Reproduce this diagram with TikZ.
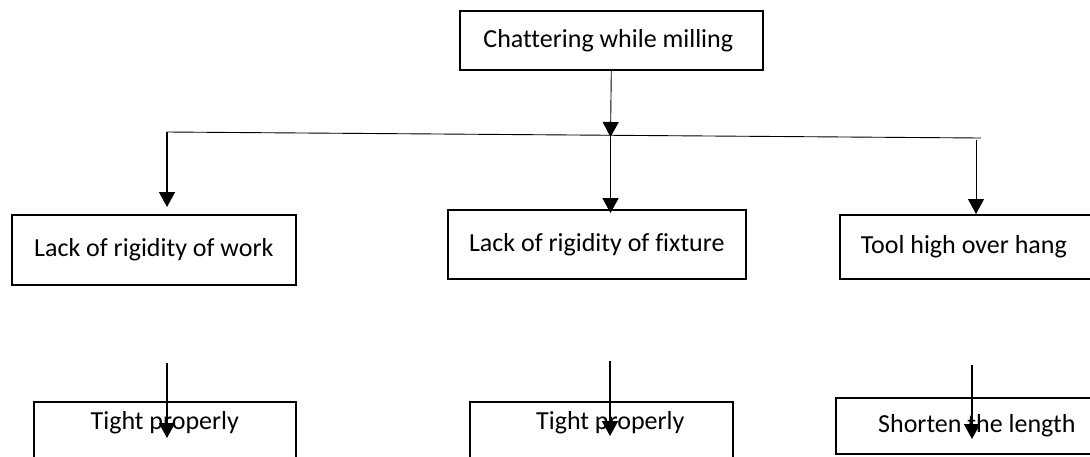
\documentclass[tikz,border=0pt]{standalone}
\usepackage{fontspec}
\setmainfont[Ligatures=NoCommon]{Carlito}
\usetikzlibrary{arrows.meta,calc}
\tikzset{
  box/.style={draw, line width=1.6pt, inner sep=0pt, anchor=north west,
    font=\fontsize{26}{31}\selectfont},
  lowbox/.style={box, text height=28pt, text depth=50pt},
  tip/.style={-{Triangle[width=16pt,length=15pt]}},
  thin/.style={tip, line width=0.9pt},
  medium/.style={tip, line width=1.4pt},
  heavy/.style={tip, line width=1.8pt},
  rail/.style={line width=0.9pt},
}
\begin{document}
\begin{tikzpicture}[x=1pt,y=-1pt]
\useasboundingbox (0,0) rectangle (1090,456);
\clip (0,0) rectangle (1090,456);

% problem
\node[box, minimum width=303pt, minimum height=59pt] (top) at (459,10) {Chattering while milling\hspace*{6pt}};

% causes
\node[box, minimum width=284pt, minimum height=70pt] (work) at (11,214) {Lack of rigidity of work};
\node[box, minimum width=298pt, minimum height=69pt] (fixture) at (447,209) {Lack of rigidity of fixture};
\node[box, minimum width=261pt, minimum height=64pt] (tool) at (839,214) {Tool high over hang\hspace*{13pt}};

% remedies
\node[lowbox, minimum width=262pt] (tight1) at (33,401) {Tight properly};
\node[lowbox, minimum width=263pt] (tight2) at (469,401) {\hspace*{18pt}Tight properly};
\node[box, minimum width=265pt, minimum height=56pt, text height=30pt, text depth=16pt] (shorten) at (835,397) {\hspace*{17pt}Shorten the length};

% branching rail
\coordinate (railL) at (167,132);
\coordinate (railR) at (981,138);
\coordinate (join) at (610.5,137);
\coordinate (dropR) at (976,140);
\draw[rail] (railL) -- (railR);

\draw[thin] (top.south) -- (join);
\draw[medium, shorten >=7pt] (railL) -- (work.north -| railL);
\draw[heavy, shorten >=-4pt] (join) -- (fixture.north -| join);
\draw[thin] (dropR) -- (tool.north -| dropR);

% arrows into the remedies
\coordinate (s1) at (167,363);
\coordinate (s2) at (610,361);
\coordinate (s3) at (972,365);
\draw[heavy] (s1) -- ($(tight1.north -| s1)+(0,37)$);
\draw[heavy] (s2) -- ($(tight2.north -| s2)+(0,35)$);
\draw[heavy] (s3) -- ($(shorten.north -| s3)+(0,42)$);
\end{tikzpicture}
\end{document}
